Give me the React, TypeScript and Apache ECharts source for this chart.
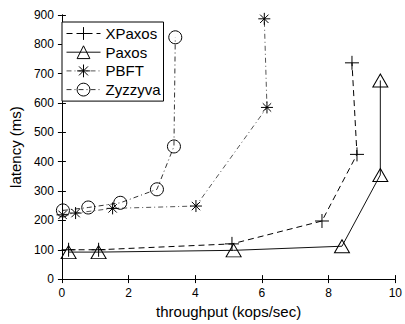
import React, { useEffect, useRef } from "react";
import * as echarts from "echarts";

const seriesNames = ["XPaxos", "Paxos", "PBFT", "Zyzzyva"];
const xpaxosData: [number, number][] = [[0.2, 100], [1.1, 100], [5.1, 120], [7.8, 198], [8.85, 425], [8.7, 737]];
const paxosData: [number, number][] = [[0.2, 92], [1.1, 92], [5.15, 98], [8.4, 112], [9.55, 355], [9.55, 677]];
const pbftData: [number, number][] = [[0.02, 219], [0.41, 225], [1.52, 241], [4.02, 249], [6.15, 585], [6.07, 887]];
const zyzzyvaData: [number, number][] = [[0.03, 234], [0.79, 244], [1.75, 260], [2.85, 306], [3.36, 452], [3.4, 824]];
const xTicks = { min: 0, max: 10, interval: 2 };
const yTicks = { min: 0, max: 900, interval: 100 };

const FONT = "Liberation Sans, Arial, Helvetica, sans-serif";
const PLUS = "path://M5,0 L5,10 M0,5 L10,5";
const STAR = "path://M5,0 L5,10 M0,5 L10,5 M1.5,1.5 L8.5,8.5 M8.5,1.5 L1.5,8.5";

export default function App() {
  const ref = useRef<HTMLDivElement>(null);
  useEffect(() => {
    if (!ref.current) return;
    const chart = echarts.init(ref.current, null, { renderer: "svg" });
    const axisLine = { show: true, lineStyle: { color: "#000", width: 1 } };
    const tick = { show: true, inside: true, length: 4, lineStyle: { color: "#000" } };
    const label = { color: "#000", fontSize: 12, fontFamily: FONT, margin: 8 };
    const marker = (color: string) => ({ color: "rgba(0,0,0,0)", borderColor: color, borderWidth: 1 });
    chart.setOption({
      animation: false,
      textStyle: { fontFamily: FONT },
      grid: { left: 55, right: 4, top: 15, bottom: 38, containLabel: false },
      legend: {
        orient: "vertical",
        left: 62,
        top: 22,
        padding: [4, 3, 4, 4],
        itemWidth: 34,
        itemHeight: 16,
        itemGap: 3.7,
        borderColor: "#000",
        borderWidth: 1,
        backgroundColor: "#fff",
        itemStyle: { borderWidth: 1, color: "rgba(0,0,0,0)", borderColor: "#000" },
        lineStyle: { width: 1 },
        textStyle: { fontSize: 15, color: "#000", fontFamily: FONT },
        data: seriesNames,
      },
      xAxis: [
        {
          type: "value", ...xTicks, position: "bottom",
          name: "throughput (kops/sec)", nameLocation: "middle", nameGap: 14,
          nameTextStyle: { fontSize: 15, color: "#000", fontFamily: FONT },
          axisLine, axisTick: tick, axisLabel: label, splitLine: { show: false },
        },
        {
          type: "value", ...xTicks, position: "top",
          axisLine, axisTick: tick, axisLabel: { show: false }, splitLine: { show: false },
        },
      ],
      yAxis: [
        {
          type: "value", ...yTicks, position: "left",
          name: "latency (ms)", nameLocation: "middle", nameGap: 23,
          nameTextStyle: { fontSize: 15, color: "#000", fontFamily: FONT },
          axisLine, axisTick: tick, axisLabel: label, splitLine: { show: false },
        },
        {
          type: "value", ...yTicks, position: "right",
          axisLine, axisTick: tick, axisLabel: { show: false }, splitLine: { show: false },
        },
      ],
      series: [
        {
          name: seriesNames[0], type: "line", data: xpaxosData,
          symbol: PLUS, symbolSize: 14,
          lineStyle: { color: "#000", width: 1, type: [6, 4] },
          itemStyle: marker("#000"),
        },
        {
          name: seriesNames[1], type: "line", data: paxosData,
          symbol: "triangle", symbolSize: [15, 13],
          lineStyle: { color: "#111", width: 1, type: "solid" },
          itemStyle: marker("#000"),
        },
        {
          name: seriesNames[2], type: "line", data: pbftData,
          symbol: STAR, symbolSize: 12,
          lineStyle: { color: "#555", width: 1, type: [5, 3, 1, 3] },
          itemStyle: marker("#000"),
        },
        {
          name: seriesNames[3], type: "line", data: zyzzyvaData,
          symbol: "circle", symbolSize: 13,
          lineStyle: { color: "#333", width: 1, type: [5, 3, 1, 3] },
          itemStyle: marker("#000"),
        },
      ],
    });
    return () => chart.dispose();
  }, []);
  return <div ref={ref} style={{ position: "fixed", left: 0, top: 0, width: 405, height: 324, background: "#fff" }} />;
}
